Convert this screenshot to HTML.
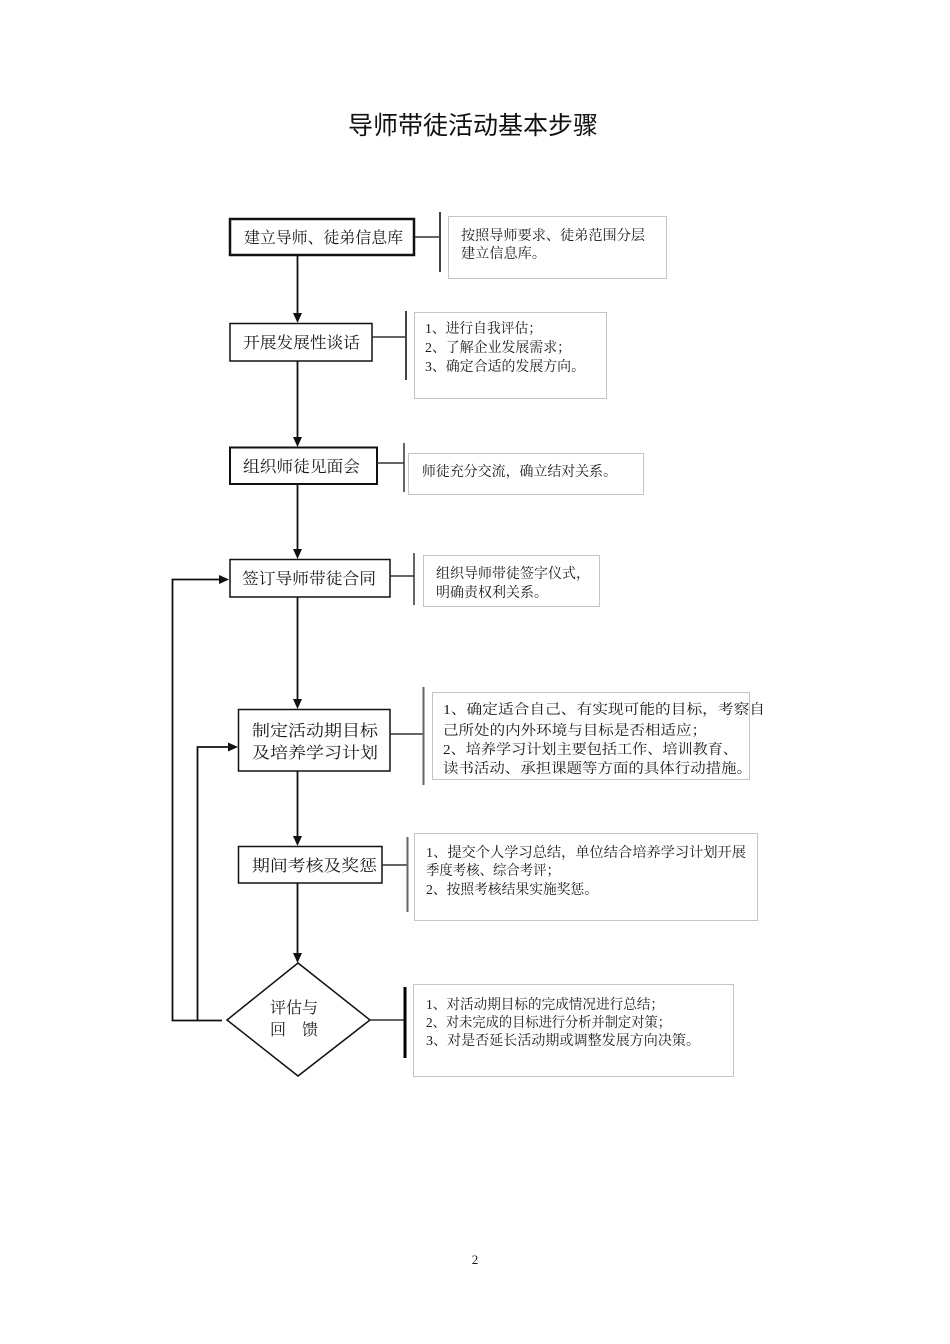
<!DOCTYPE html>
<html>
<head>
<meta charset="utf-8">
<style>
  html, body { margin: 0; padding: 0; background: #fff; }
  body { width: 950px; height: 1344px; overflow: hidden; }
  svg { display: block; }
  .serif { font-family: "Liberation Serif", "Noto Serif CJK SC", serif; fill: #1a1a1a; }
  .sans { font-family: "Liberation Sans", "Noto Sans CJK SC", sans-serif; fill: #111; }
</style>
</head>
<body>
<svg width="950" height="1344" viewBox="0 0 950 1344" xmlns="http://www.w3.org/2000/svg">
  <!-- Title -->
  <text class="sans" x="348" y="134" font-size="25" textLength="250" lengthAdjust="spacingAndGlyphs">导师带徒活动基本步骤</text>

  <!-- Main boxes -->
  <g fill="#fff" stroke="#111">
    <rect x="230" y="219" width="184" height="36" stroke-width="2.5"/>
    <rect x="230" y="323.5" width="142" height="37.5" stroke-width="1.5"/>
    <rect x="230" y="447.5" width="147" height="36.5" stroke-width="2"/>
    <rect x="230" y="559.5" width="160" height="37.5" stroke-width="1.5"/>
    <rect x="238.5" y="709.5" width="151.5" height="61.5" stroke-width="1.5"/>
    <rect x="238.5" y="846.5" width="143.5" height="36.5" stroke-width="1.5"/>
    <polygon points="298,963 370,1020 298,1076 227,1020" stroke-width="1.5"/>
  </g>

  <!-- Main box text -->
  <g class="serif" font-size="16">
    <text x="244" y="243" textLength="159" lengthAdjust="spacingAndGlyphs">建立导师、徒弟信息库</text>
    <text x="243" y="348" textLength="117" lengthAdjust="spacingAndGlyphs">开展发展性谈话</text>
    <text x="243" y="472" textLength="117" lengthAdjust="spacingAndGlyphs">组织师徒见面会</text>
    <text x="242" y="584" textLength="134" lengthAdjust="spacingAndGlyphs">签订导师带徒合同</text>
    <text x="252" y="736" textLength="126" lengthAdjust="spacingAndGlyphs">制定活动期目标</text>
    <text x="252" y="758" textLength="126" lengthAdjust="spacingAndGlyphs">及培养学习计划</text>
    <text x="252" y="871" textLength="125" lengthAdjust="spacingAndGlyphs">期间考核及奖惩</text>
    <text x="270" y="1013" textLength="48" lengthAdjust="spacingAndGlyphs">评估与</text>
    <text x="270" y="1035" textLength="48" lengthAdjust="spacingAndGlyphs">回　馈</text>
  </g>

  <!-- Vertical arrows between steps -->
  <g stroke="#111" stroke-width="1.8" fill="none">
    <line x1="297.5" y1="256" x2="297.5" y2="314"/>
    <line x1="297.5" y1="361" x2="297.5" y2="438"/>
    <line x1="297.5" y1="484" x2="297.5" y2="550"/>
    <line x1="297.5" y1="597" x2="297.5" y2="700"/>
    <line x1="297.5" y1="771" x2="297.5" y2="837"/>
    <line x1="297.5" y1="883" x2="297.5" y2="954"/>
    <!-- feedback loops -->
    <polyline points="222,1020.5 172.5,1020.5 172.5,579.5 221,579.5"/>
    <polyline points="197.5,1020.5 197.5,747 230,747"/>
  </g>
  <g fill="#111">
    <polygon points="293,313 302,313 297.5,323"/>
    <polygon points="293,437 302,437 297.5,447"/>
    <polygon points="293,549 302,549 297.5,559"/>
    <polygon points="293,699 302,699 297.5,709"/>
    <polygon points="293,836 302,836 297.5,846"/>
    <polygon points="293,953 302,953 297.5,963"/>
    <polygon points="219,575 219,584 229,579.5"/>
    <polygon points="228,742.5 228,751.5 238,747"/>
  </g>

  <!-- Connectors from boxes to bars -->
  <g stroke="#333" stroke-width="1.5">
    <line x1="415" y1="237" x2="440" y2="237"/>
    <line x1="372" y1="337" x2="406" y2="337"/>
    <line x1="377" y1="463" x2="404" y2="463"/>
    <line x1="390" y1="576" x2="414" y2="576"/>
    <line x1="390" y1="734" x2="423" y2="734"/>
    <line x1="382" y1="865" x2="407" y2="865"/>
    <line x1="370" y1="1020" x2="404" y2="1020"/>
  </g>

  <!-- Bars -->
  <g>
    <line x1="440" y1="212" x2="440" y2="272" stroke="#444" stroke-width="2"/>
    <line x1="406" y1="311" x2="406" y2="380" stroke="#444" stroke-width="2"/>
    <line x1="404" y1="443" x2="404" y2="492" stroke="#333" stroke-width="1.5"/>
    <line x1="414" y1="553" x2="414" y2="605" stroke="#333" stroke-width="1.5"/>
    <line x1="423.5" y1="687" x2="423.5" y2="785" stroke="#666" stroke-width="2"/>
    <line x1="407.5" y1="837" x2="407.5" y2="912" stroke="#666" stroke-width="2"/>
    <line x1="405" y1="987" x2="405" y2="1058" stroke="#000" stroke-width="3"/>
  </g>

  <!-- Note boxes -->
  <g fill="none" stroke="#c4c4c4" stroke-width="1">
    <rect x="448.5" y="216.5" width="218" height="62"/>
    <rect x="414.5" y="312.5" width="192" height="86"/>
    <rect x="408.5" y="453.5" width="235" height="41"/>
    <rect x="423.5" y="555.5" width="176" height="51"/>
    <rect x="432.5" y="692.5" width="317" height="87"/>
    <rect x="414.5" y="833.5" width="343" height="87"/>
    <rect x="413.5" y="984.5" width="320" height="92"/>
  </g>

  <!-- Note text -->
  <g class="serif" font-size="14">
    <text x="461" y="240" textLength="184" lengthAdjust="spacingAndGlyphs">按照导师要求、徒弟范围分层</text>
    <text x="461" y="258" textLength="85" lengthAdjust="spacingAndGlyphs">建立信息库。</text>

    <text x="425" y="333" textLength="117" lengthAdjust="spacingAndGlyphs">1、进行自我评估；</text>
    <text x="425" y="352" textLength="146" lengthAdjust="spacingAndGlyphs">2、了解企业发展需求；</text>
    <text x="425" y="371" textLength="160" lengthAdjust="spacingAndGlyphs">3、确定合适的发展方向。</text>

    <text x="422" y="476" textLength="195" lengthAdjust="spacingAndGlyphs">师徒充分交流，确立结对关系。</text>

    <text x="436" y="578" textLength="154" lengthAdjust="spacingAndGlyphs">组织导师带徒签字仪式，</text>
    <text x="436" y="597" textLength="112" lengthAdjust="spacingAndGlyphs">明确责权利关系。</text>

    <text x="443" y="714" textLength="322" lengthAdjust="spacingAndGlyphs">1、确定适合自己、有实现可能的目标，考察自</text>
    <text x="443" y="735" textLength="264" lengthAdjust="spacingAndGlyphs">己所处的内外环境与目标是否相适应；</text>
    <text x="443" y="754" textLength="295" lengthAdjust="spacingAndGlyphs">2、培养学习计划主要包括工作、培训教育、</text>
    <text x="443" y="773" textLength="309" lengthAdjust="spacingAndGlyphs">读书活动、承担课题等方面的具体行动措施。</text>

    <text x="426" y="857" textLength="320" lengthAdjust="spacingAndGlyphs">1、提交个人学习总结，单位结合培养学习计划开展</text>
    <text x="426" y="875" textLength="134" lengthAdjust="spacingAndGlyphs">季度考核、综合考评；</text>
    <text x="426" y="894" textLength="172" lengthAdjust="spacingAndGlyphs">2、按照考核结果实施奖惩。</text>

    <text x="426" y="1009" textLength="238" lengthAdjust="spacingAndGlyphs">1、对活动期目标的完成情况进行总结；</text>
    <text x="426" y="1027" textLength="245" lengthAdjust="spacingAndGlyphs">2、对未完成的目标进行分析并制定对策；</text>
    <text x="426" y="1045" textLength="274" lengthAdjust="spacingAndGlyphs">3、对是否延长活动期或调整发展方向决策。</text>
  </g>

  <!-- Page number -->
  <text class="serif" x="475" y="1264" font-size="13" text-anchor="middle">2</text>
</svg>
</body>
</html>
